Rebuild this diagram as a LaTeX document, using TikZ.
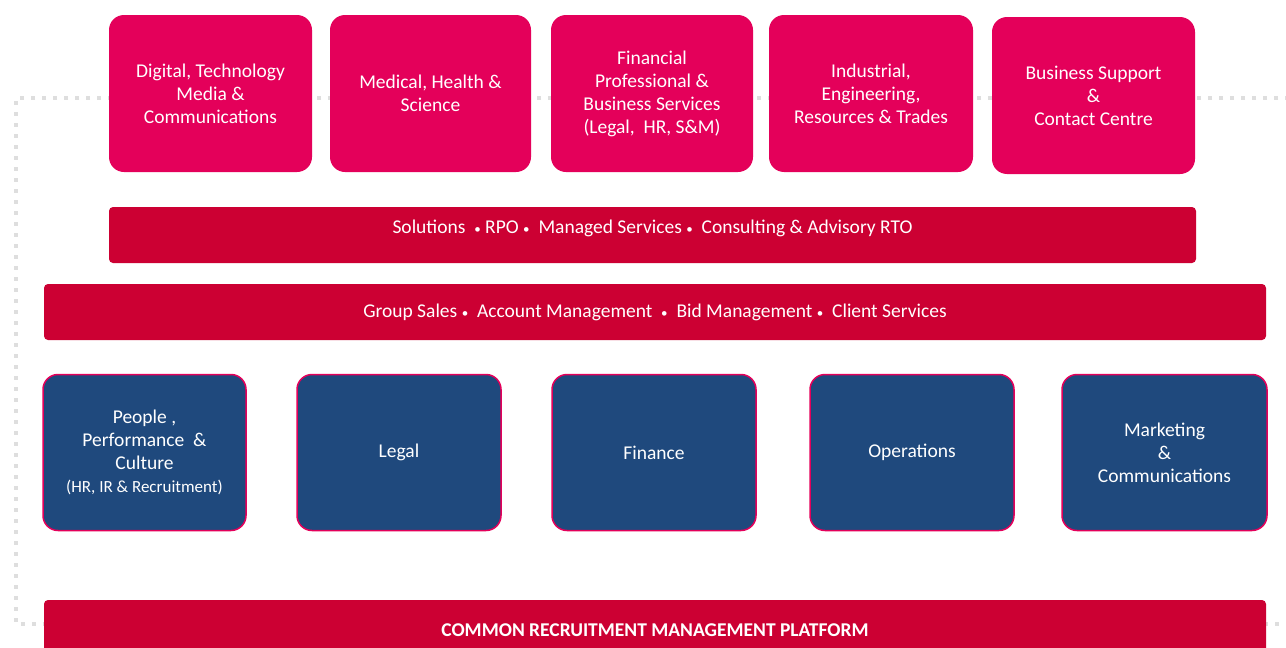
\documentclass[tikz,border=0pt]{standalone}
\usepackage{fontspec}
\setmainfont{Carlito}
\usetikzlibrary{calc}
\definecolor{sector}{RGB}{228,0,90}
\definecolor{barred}{RGB}{204,0,51}
\definecolor{corpblue}{RGB}{31,73,125}
\definecolor{dotgray}{RGB}{222,222,222}
% small bullet used between service names
\newcommand\sepdot{{\fontsize{13}{13}\selectfont•}}
\tikzset{
  txt/.style={font=\fontsize{19.5}{23}\selectfont, text=white, align=center},
  sectorbox/.style={txt, fill=sector, rounded corners=15pt, minimum width=203pt, minimum height=157pt, inner sep=0pt},
  band/.style={txt, fill=barred, rounded corners=4pt, inner sep=0pt},
  funcbox/.style={txt, fill=corpblue, draw=sector, line width=1.5pt, rounded corners=15pt, minimum width=203pt, minimum height=156pt, inner sep=0pt},
  frame/.style={draw=dotgray, line width=4pt, dash pattern=on 4pt off 7pt}
}
\begin{document}
\begin{tikzpicture}[x=1pt,y=-1pt]
\clip (0,0) rectangle (1286,648);
\fill[white] (0,0) rectangle (1286,648);
% dotted frame behind everything
\draw[frame] (1300,98) -- (16,98) -- (16,624) -- (1300,624);

% business sectors
\node[sectorbox] (s1) at (210.5,93.5) {Digital, Technology\\Media \&\\Communications};
\node[sectorbox, minimum width=201pt] (s2) at (430.5,93.5) {Medical, Health \&\\Science};
\node[sectorbox, minimum width=202pt] (s3) at (652,93.5) {Financial\\Professional \&\\Business Services\\(Legal,\ \ HR, S\&M)};
\node[sectorbox, minimum width=204pt] (s4) at (871,93.5) {Industrial,\\Engineering,\\Resources \& Trades};
\node[sectorbox] (s5) at (1093.5,95.5) {Business Support\\\&\\Contact Centre};

% service bands
\node[band, minimum width=1087pt, minimum height=56pt] (sol) at (652.5,235) {};
\node[txt] (soltext) at ($(sol.north)+(0,22)$) {Solutions\ \ \sepdot\ RPO \sepdot\ \ Managed Services \sepdot\ \ Consulting \& Advisory RTO};
\node[band, minimum width=1222pt, minimum height=56pt] (grp) at (655,312) {Group Sales \sepdot\ \ Account Management\ \ \sepdot\ \ Bid Management \sepdot\ \ Client Services};

% corporate functions
\node[funcbox] (f1) at (144.5,452.5) {People ,\\Performance\ \ \&\\Culture\\{\fontsize{17}{24}\selectfont (HR, IR \& Recruitment)}};
\node[funcbox, minimum width=204pt] (f2) at (399,452.5) {Legal};
\node[funcbox, minimum width=204pt] (f3) at (654,452.5) {Finance};
\node[funcbox, minimum width=204pt] (f4) at (912,452.5) {Operations};
\node[funcbox, minimum width=205pt] (f5) at (1164.5,452.5) {Marketing\\\&\\Communications};

% platform
\node[band, minimum width=1222pt, minimum height=60pt, font=\fontsize{19.5}{23}\bfseries\selectfont] (plat) at (655,630) {COMMON RECRUITMENT MANAGEMENT PLATFORM};
\end{tikzpicture}
\end{document}
